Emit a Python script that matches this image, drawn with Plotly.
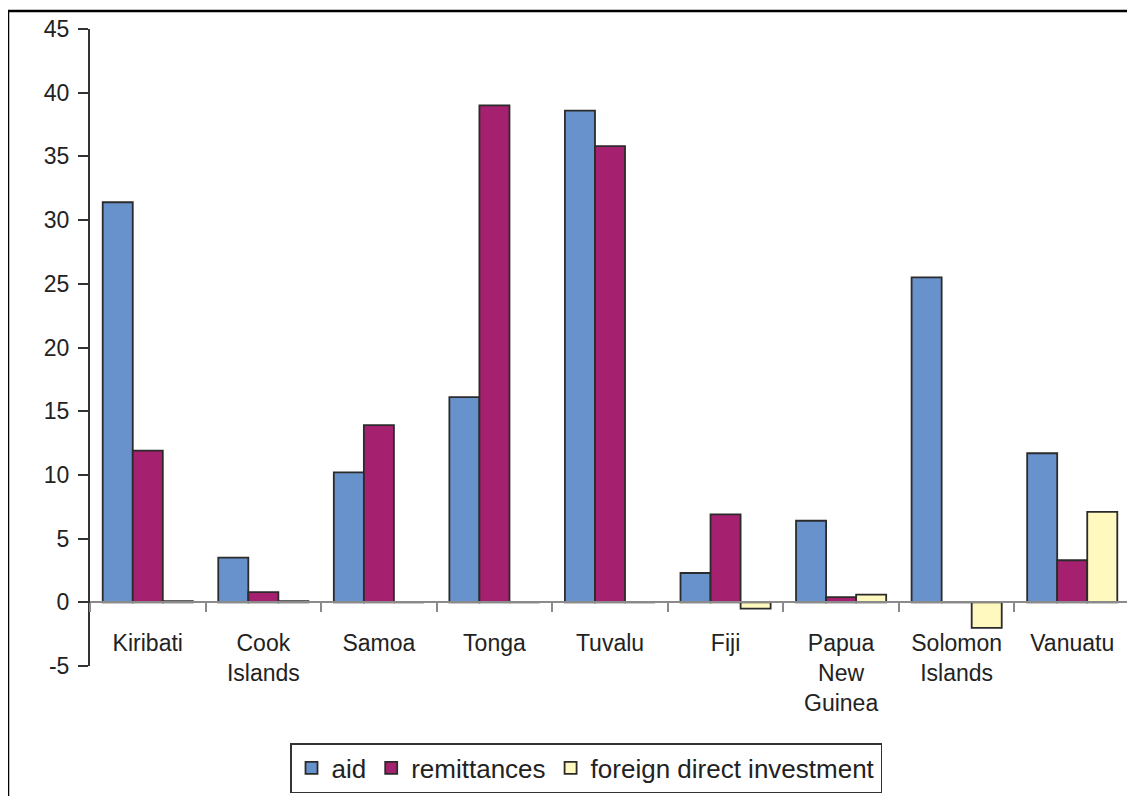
import plotly.graph_objects as go

categories = ["Kiribati", "Cook<br>Islands", "Samoa", "Tonga", "Tuvalu", "Fiji",
              "Papua<br>New<br>Guinea", "Solomon<br>Islands", "Vanuatu"]
aid = [31.4, 3.5, 10.2, 16.1, 38.6, 2.3, 6.4, 25.5, 11.7]
remittances = [11.9, 0.8, 13.9, 39.0, 35.8, 6.9, 0.4, 0.0, 3.3]
fdi = [0.1, 0.1, 0.0, 0.0, 0.0, -0.5, 0.6, -2.0, 7.1]
series_names = ["aid", "remittances", "foreign direct investment"]
colors = ["#6892CB", "#A5216F", "#FFF8BF"]
y_ticks = [-5, 0, 5, 10, 15, 20, 25, 30, 35, 40, 45]
y_tick_text = ["-5", "0", "5", "10", "15", "20", "25", "30", "35", "40", "45"]

W, H = 1135, 796
OFF = 8  # page offset of the plot div
L, R, T, B = 90 - OFF, 13, 29 - OFF, 138
pw, ph = W - L - R, H - T - B
bottom_px = T + ph

fig = go.Figure()
for name, vals, col in zip(series_names, [aid, remittances, fdi], colors):
    fig.add_trace(go.Bar(
        x=categories, y=vals, name=name,
        marker=dict(color=col, line=dict(color="#2b2b2b", width=1.8)),
    ))

font = dict(family="Liberation Sans, Arial, sans-serif", size=23, color="#222222")

fig.update_layout(
    width=W, height=H,
    margin=dict(l=L, r=R, t=T, b=B, autoexpand=False),
    paper_bgcolor="white", plot_bgcolor="white",
    barmode="group", bargap=0.22, bargroupgap=0,
    font=font,
    showlegend=True,
    legend=dict(
        orientation="h",
        x=(290 - OFF - L) / pw, xanchor="left",
        y=-(743 - OFF - bottom_px) / ph, yanchor="top",
        bordercolor="#333333", borderwidth=1.5,
        bgcolor="white",
        font=dict(family="Liberation Sans, Arial, sans-serif", size=26, color="#222222"),
        traceorder="normal",
    ),
    xaxis=dict(
        type="category",
        showline=True, linecolor="#8a8a8a", linewidth=2,
        ticks="outside", tickson="boundaries", ticklen=9, tickwidth=2, tickcolor="#8a8a8a",
        anchor="free", position=5 / 50,
        showgrid=False, zeroline=False,
        ticklabelstandoff=20,
        tickfont=font,
    ),
    yaxis=dict(
        range=[-5, 45], tickvals=y_ticks, ticktext=y_tick_text,
        showline=True, linecolor="#333333", linewidth=2,
        ticks="outside", ticklen=10, tickwidth=2, tickcolor="#333333",
        showgrid=False, zeroline=False,
        ticklabelstandoff=4,
        tickfont=font,
    ),
    shapes=[
        dict(type="rect", xref="paper", yref="paper",
             x0=(8 - OFF - L) / pw, x1=1.05, y0=-0.3, y1=1 + (T - (11 - OFF)) / ph,
             line=dict(color="black", width=2.5), fillcolor="rgba(0,0,0,0)", layer="below"),
    ],
)

fig.write_html("out.html")
